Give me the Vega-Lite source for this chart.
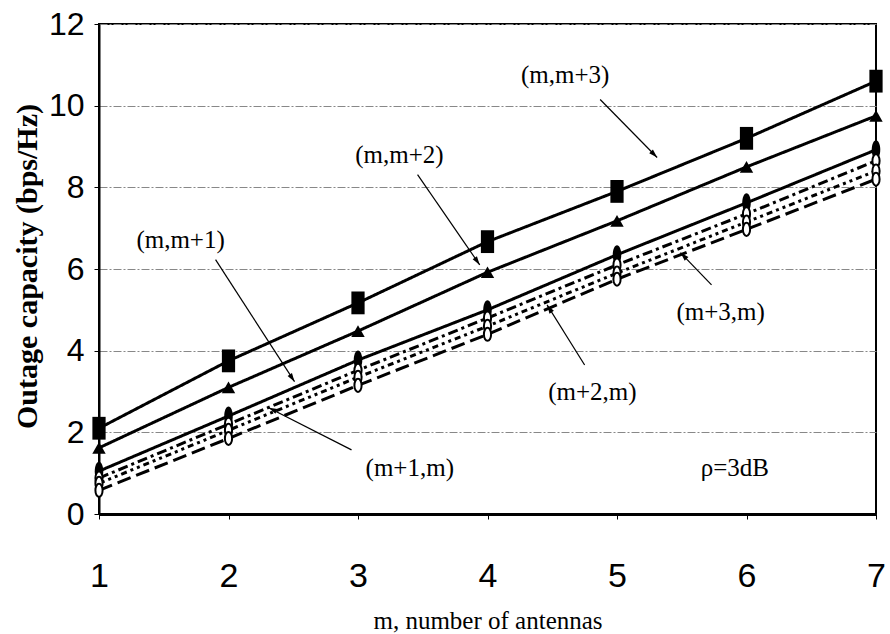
{
  "$schema": "https://vega.github.io/schema/vega-lite/v6.json",
  "width": 777,
  "height": 490,
  "autosize": "none",
  "padding": {"left": 99, "top": 24, "right": 14, "bottom": 120},
  "background": "white",
  "config": {
    "view": {"stroke": "black", "strokeWidth": 2},
    "font": "Liberation Serif"
  },
  "datasets": {
    "curves": [
      {"m": 1, "cap": 2.1, "series": "(m,m+3)"},
      {"m": 2, "cap": 3.75, "series": "(m,m+3)"},
      {"m": 3, "cap": 5.17, "series": "(m,m+3)"},
      {"m": 4, "cap": 6.67, "series": "(m,m+3)"},
      {"m": 5, "cap": 7.9, "series": "(m,m+3)"},
      {"m": 6, "cap": 9.2, "series": "(m,m+3)"},
      {"m": 7, "cap": 10.6, "series": "(m,m+3)"},
      {"m": 1, "cap": 1.62, "series": "(m,m+2)"},
      {"m": 2, "cap": 3.1, "series": "(m,m+2)"},
      {"m": 3, "cap": 4.48, "series": "(m,m+2)"},
      {"m": 4, "cap": 5.92, "series": "(m,m+2)"},
      {"m": 5, "cap": 7.18, "series": "(m,m+2)"},
      {"m": 6, "cap": 8.5, "series": "(m,m+2)"},
      {"m": 7, "cap": 9.75, "series": "(m,m+2)"},
      {"m": 1, "cap": 1.05, "series": "(m,m+1)"},
      {"m": 2, "cap": 2.4, "series": "(m,m+1)"},
      {"m": 3, "cap": 3.77, "series": "(m,m+1)"},
      {"m": 4, "cap": 5.0, "series": "(m,m+1)"},
      {"m": 5, "cap": 6.35, "series": "(m,m+1)"},
      {"m": 6, "cap": 7.62, "series": "(m,m+1)"},
      {"m": 7, "cap": 8.92, "series": "(m,m+1)"},
      {"m": 1, "cap": 0.88, "series": "(m+3,m)"},
      {"m": 2, "cap": 2.2, "series": "(m+3,m)"},
      {"m": 3, "cap": 3.52, "series": "(m+3,m)"},
      {"m": 4, "cap": 4.8, "series": "(m+3,m)"},
      {"m": 5, "cap": 6.1, "series": "(m+3,m)"},
      {"m": 6, "cap": 7.35, "series": "(m+3,m)"},
      {"m": 7, "cap": 8.65, "series": "(m+3,m)"},
      {"m": 1, "cap": 0.75, "series": "(m+2,m)"},
      {"m": 2, "cap": 2.05, "series": "(m+2,m)"},
      {"m": 3, "cap": 3.35, "series": "(m+2,m)"},
      {"m": 4, "cap": 4.6, "series": "(m+2,m)"},
      {"m": 5, "cap": 5.9, "series": "(m+2,m)"},
      {"m": 6, "cap": 7.15, "series": "(m+2,m)"},
      {"m": 7, "cap": 8.4, "series": "(m+2,m)"},
      {"m": 1, "cap": 0.58, "series": "(m+1,m)"},
      {"m": 2, "cap": 1.85, "series": "(m+1,m)"},
      {"m": 3, "cap": 3.15, "series": "(m+1,m)"},
      {"m": 4, "cap": 4.4, "series": "(m+1,m)"},
      {"m": 5, "cap": 5.75, "series": "(m+1,m)"},
      {"m": 6, "cap": 6.97, "series": "(m+1,m)"},
      {"m": 7, "cap": 8.2, "series": "(m+1,m)"}
    ],
    "labels": [
      {"x": 4.6, "y": 10.76, "text": "(m,m+3)"},
      {"x": 3.32, "y": 8.8, "text": "(m,m+2)"},
      {"x": 1.63, "y": 6.72, "text": "(m,m+1)"},
      {"x": 5.8, "y": 4.95, "text": "(m+3,m)"},
      {"x": 4.81, "y": 2.99, "text": "(m+2,m)"},
      {"x": 3.4, "y": 1.13, "text": "(m+1,m)"},
      {"x": 5.91, "y": 1.13, "text": "ρ=3dB"}
    ],
    "arrows": [
      {"id": 1, "x": 4.87, "y": 10.15, "x2": 5.31, "y2": 8.73},
      {"id": 2, "x": 3.46, "y": 8.31, "x2": 3.94, "y2": 6.1},
      {"id": 3, "x": 1.9, "y": 6.23, "x2": 2.51, "y2": 3.24},
      {"id": 4, "x": 5.73, "y": 5.61, "x2": 5.49, "y2": 6.4},
      {"id": 5, "x": 4.75, "y": 3.65, "x2": 4.46, "y2": 5.12},
      {"id": 6, "x": 2.95, "y": 1.57, "x2": 2.31, "y2": 2.6}
    ]
  },
  "encoding": {
    "x": {
      "type": "quantitative",
      "scale": {"domain": [1, 7], "nice": false, "zero": false},
      "axis": {
        "title": "m, number of antennas",
        "titleFont": "Liberation Serif",
        "titleFontSize": 25,
        "titleFontWeight": "normal",
        "titleColor": "black",
        "titleY": 106,
        "titleBaseline": "middle",
        "values": [1, 2, 3, 4, 5, 6, 7],
        "labelFont": "Liberation Sans",
        "labelFontSize": 34,
        "labelColor": "black",
        "labelFlush": false,
        "labelOverlap": false,
        "labelPadding": 40,
        "tickColor": "black",
        "tickSize": 5,
        "domainColor": "black",
        "domainWidth": 3,
        "grid": false
      }
    },
    "y": {
      "type": "quantitative",
      "scale": {"domain": [0, 12], "nice": false},
      "axis": {
        "title": "Outage capacity (bps/Hz)",
        "titleFont": "Liberation Serif",
        "titleFontSize": 30,
        "titleFontWeight": "bold",
        "titleColor": "black",
        "titleX": -72,
        "titleY": 242,
        "titleAlign": "center",
        "titleBaseline": "middle",
        "titleAngle": -90,
        "values": [0, 2, 4, 6, 8, 10, 12],
        "labelFont": "Liberation Sans",
        "labelFontSize": 32,
        "labelColor": "black",
        "labelPadding": 10,
        "tickColor": "black",
        "tickSize": 5,
        "domainColor": "black",
        "domainWidth": 2,
        "grid": true,
        "gridColor": "#888888",
        "gridWidth": 1,
        "gridDash": [8, 2, 2, 2]
      }
    }
  },
  "layer": [
    {
      "data": {"name": "curves"},
      "mark": {"type": "line", "color": "black", "strokeWidth": 3},
      "encoding": {
        "x": {"field": "m"},
        "y": {"field": "cap"},
        "detail": {"field": "series", "type": "nominal"},
        "strokeDash": {
          "field": "series",
          "type": "nominal",
          "scale": {
            "domain": ["(m,m+3)", "(m,m+2)", "(m,m+1)", "(m+3,m)", "(m+2,m)", "(m+1,m)"],
            "range": [[1, 0], [1, 0], [1, 0], [10, 4, 3, 4], [6, 4, 3, 4, 3, 4], [14, 6]]
          },
          "legend": null
        }
      }
    },
    {
      "data": {"name": "curves"},
      "transform": [{"filter": "datum.series == '(m,m+3)'"}],
      "mark": {"type": "point", "filled": true, "color": "black", "opacity": 1, "shape": "M-0.58,-1H0.58V1H-0.58Z", "size": 520},
      "encoding": {"x": {"field": "m"}, "y": {"field": "cap"}}
    },
    {
      "data": {"name": "curves"},
      "transform": [{"filter": "datum.series == '(m,m+2)'"}],
      "mark": {"type": "point", "filled": true, "color": "black", "opacity": 1, "shape": "triangle-up", "size": 180},
      "encoding": {"x": {"field": "m"}, "y": {"field": "cap"}}
    },
    {
      "data": {"name": "curves"},
      "transform": [{"filter": "datum.series == '(m,m+1)'"}],
      "mark": {"type": "point", "filled": true, "color": "black", "opacity": 1, "shape": "M0,-1A0.45,1 0 1,1 0,1A0.45,1 0 1,1 0,-1Z", "size": 360},
      "encoding": {"x": {"field": "m"}, "y": {"field": "cap"}}
    },
    {
      "data": {"name": "curves"},
      "transform": [{"filter": "datum.series == '(m+3,m)' || datum.series == '(m+2,m)' || datum.series == '(m+1,m)'"}],
      "mark": {"type": "point", "filled": false, "fill": "white", "stroke": "black", "strokeWidth": 2, "opacity": 1, "shape": "M0,-1A0.55,1 0 1,1 0,1A0.55,1 0 1,1 0,-1Z", "size": 170},
      "encoding": {"x": {"field": "m"}, "y": {"field": "cap"}}
    },
    {
      "data": {"name": "arrows"},
      "mark": {"type": "rule", "color": "black", "strokeWidth": 1.2},
      "encoding": {
        "x": {"field": "x"},
        "y": {"field": "y"},
        "x2": {"field": "x2"},
        "y2": {"field": "y2"}
      }
    },
    {"data": {"name": "arrows"}, "transform": [{"filter": "datum.id == 1"}], "mark": {"type": "point", "filled": true, "color": "black", "opacity": 1, "shape": "M0,0L0.3,1L-0.3,1Z", "size": 300, "angle": 135.5}, "encoding": {"x": {"field": "x2"}, "y": {"field": "y2"}}},
    {"data": {"name": "arrows"}, "transform": [{"filter": "datum.id == 2"}], "mark": {"type": "point", "filled": true, "color": "black", "opacity": 1, "shape": "M0,0L0.3,1L-0.3,1Z", "size": 300, "angle": 145.4}, "encoding": {"x": {"field": "x2"}, "y": {"field": "y2"}}},
    {"data": {"name": "arrows"}, "transform": [{"filter": "datum.id == 3"}], "mark": {"type": "point", "filled": true, "color": "black", "opacity": 1, "shape": "M0,0L0.3,1L-0.3,1Z", "size": 300, "angle": 146.7}, "encoding": {"x": {"field": "x2"}, "y": {"field": "y2"}}},
    {"data": {"name": "arrows"}, "transform": [{"filter": "datum.id == 4"}], "mark": {"type": "point", "filled": true, "color": "black", "opacity": 1, "shape": "M0,0L0.3,1L-0.3,1Z", "size": 300, "angle": 315}, "encoding": {"x": {"field": "x2"}, "y": {"field": "y2"}}},
    {"data": {"name": "arrows"}, "transform": [{"filter": "datum.id == 5"}], "mark": {"type": "point", "filled": true, "color": "black", "opacity": 1, "shape": "M0,0L0.3,1L-0.3,1Z", "size": 300, "angle": 327.7}, "encoding": {"x": {"field": "x2"}, "y": {"field": "y2"}}},
    {"data": {"name": "arrows"}, "transform": [{"filter": "datum.id == 6"}], "mark": {"type": "point", "filled": true, "color": "black", "opacity": 1, "shape": "M0,0L0.3,1L-0.3,1Z", "size": 300, "angle": 294.9}, "encoding": {"x": {"field": "x2"}, "y": {"field": "y2"}}},
    {
      "data": {"name": "labels"},
      "mark": {"type": "text", "font": "Liberation Serif", "fontSize": 25, "color": "black", "align": "center", "baseline": "middle"},
      "encoding": {
        "x": {"field": "x"},
        "y": {"field": "y"},
        "text": {"field": "text"}
      }
    }
  ]
}
